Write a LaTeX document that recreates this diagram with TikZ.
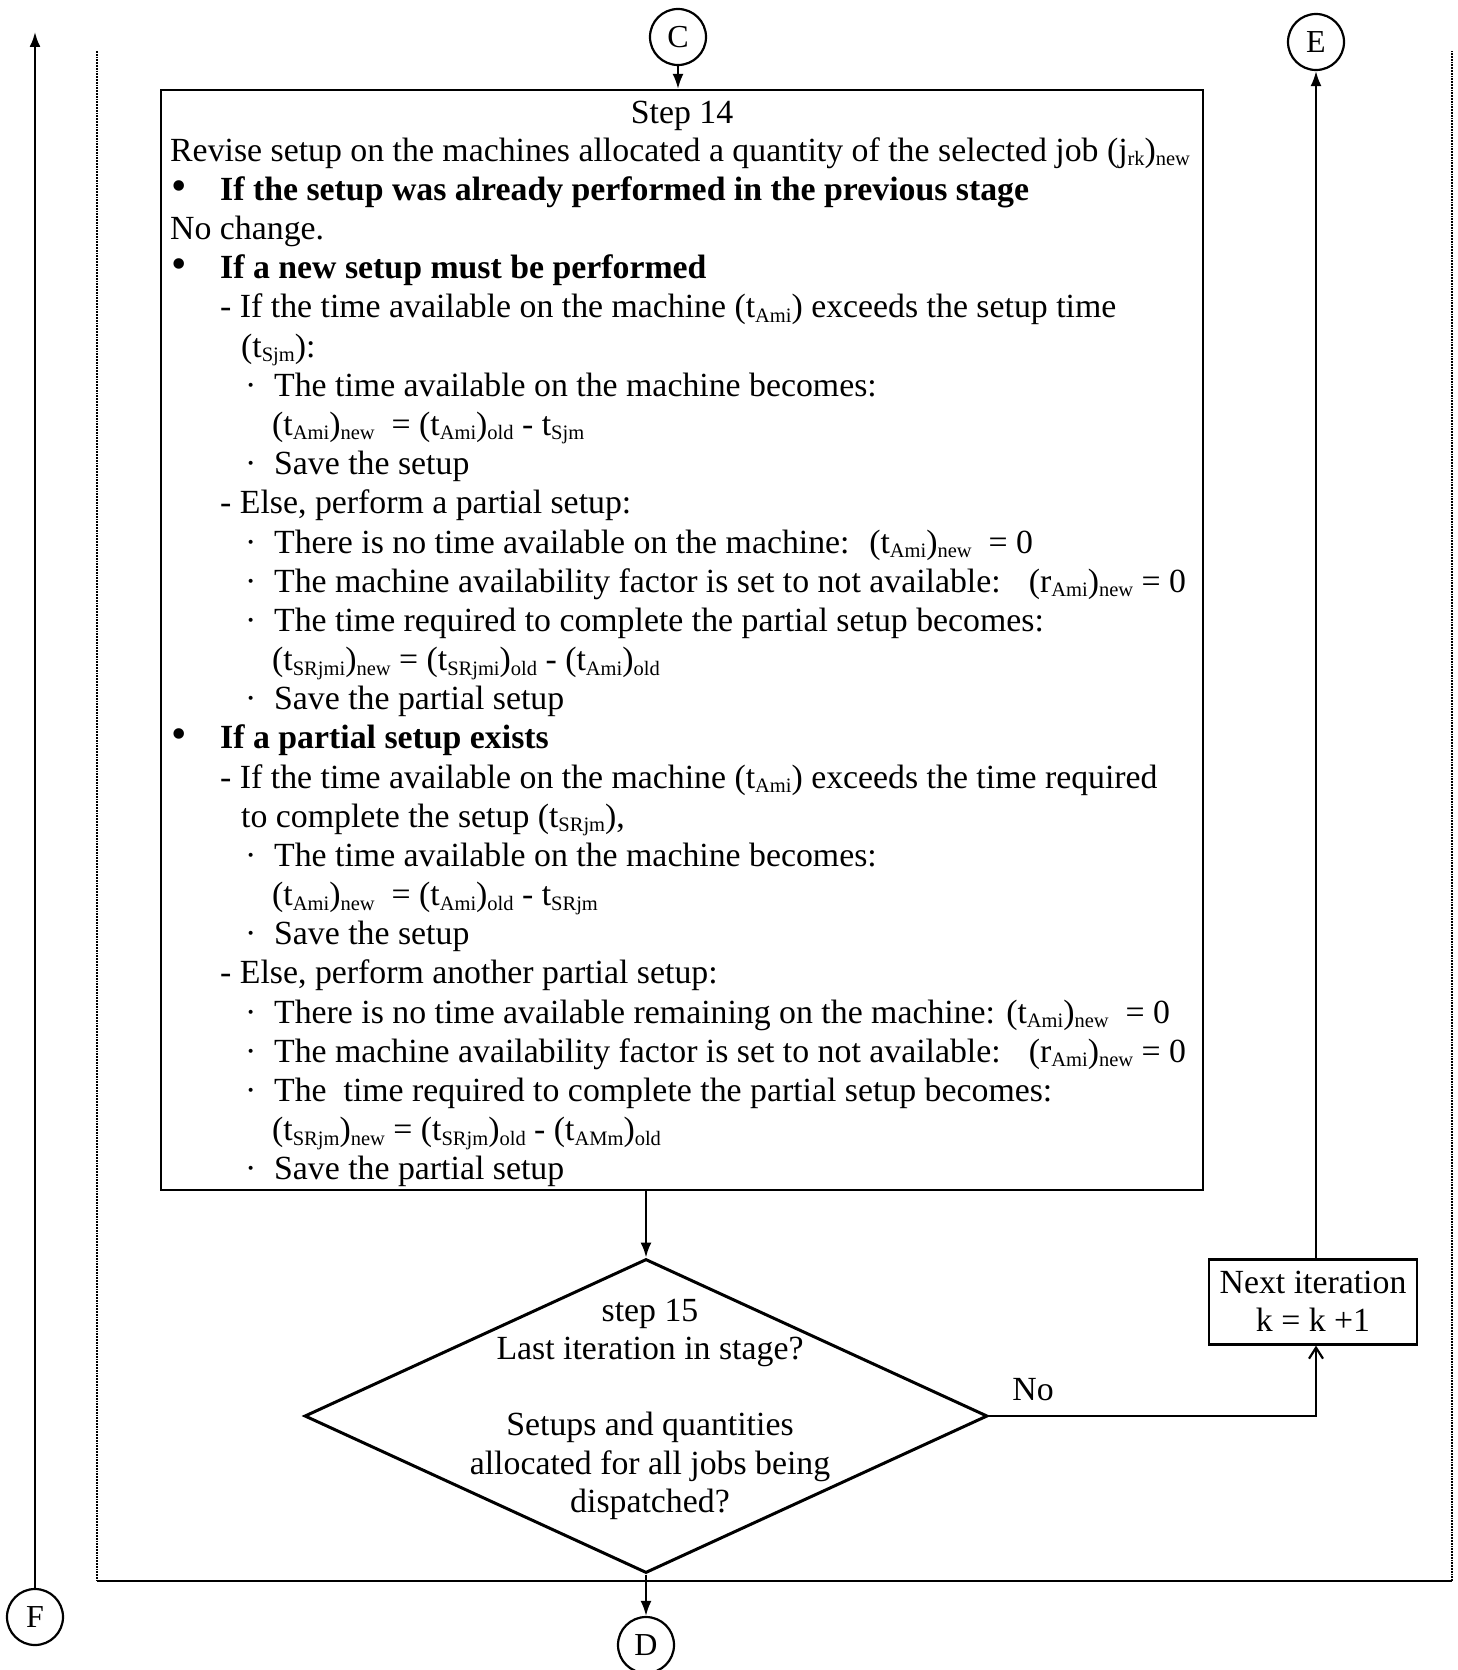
\documentclass[tikz,border=0pt]{standalone}
\usepackage{fontspec}
\setmainfont{Liberation Serif}
\usetikzlibrary{arrows.meta,shapes.geometric}

% lowered small text for indices
\newcommand\sbs[1]{\raisebox{-4.5pt}{\fontsize{20.5}{20.5}\selectfont #1}}
\newcommand\bodyfont{\fontsize{33.8}{39.17}\selectfont}
\newcommand\bul{\makebox[50pt][l]{\hspace{1pt}\scalebox{1.3}{•}}}
\newcommand\dotm{\makebox[29pt][l]{·}}
% one text line of the step-14 box: name, line number, left edge, content
\newcommand\bxline[4]{\node[txt] (#1) at (#3,{161.3+39.17*(#2-1)}) {#4};}

\begin{document}
\begin{tikzpicture}[x=1pt,y=-1pt,
  every node/.style={font=\bodyfont},
  txt/.style={anchor=base west, inner sep=0pt},
  ctxt/.style={anchor=base, inner sep=0pt},
  conn/.style={draw, circle, line width=2.2pt, minimum size=56pt, inner sep=0pt,
               font=\fontsize{32}{32}\selectfont},
  stepbox/.style={draw, line width=2.2pt, inner sep=0pt},
  flow/.style={line width=2.2pt, -{Latex[length=15pt,width=11pt]}},
  openflow/.style={line width=2.2pt, -{Straight Barb[length=11pt,width=14pt,line width=2.2pt]}},
  frame/.style={line width=1.8pt}
]
\useasboundingbox (0,0) rectangle (1457,1670);

% off-page connectors
\node[conn] (C) at (678,37) {C};
\node[conn] (E) at (1316,42) {E};
\node[conn] (F) at (35,1617) {F};
\node[conn] (D) at (646,1645) {D};

% step 14
\node[stepbox, minimum width=1042pt, minimum height=1100pt] (s14) at (682,640) {};
\node[ctxt] (st) at (682,123) {Step 14};
\bxline{l1}{1}{170}{Revise setup on the machines allocated a quantity of the selected job (j\sbs{rk})\sbs{new}}
\bxline{l2}{2}{170}{\bul\textbf{If the setup was already performed in the previous stage}}
\bxline{l3}{3}{170}{No change.}
\bxline{l4}{4}{170}{\bul\textbf{If a new setup must be performed}}
\bxline{l5}{5}{220}{- If the time available on the machine (t\sbs{Ami}) exceeds the setup time}
\bxline{l6}{6}{241}{(t\sbs{Sjm}):}
\bxline{l7}{7}{245}{\dotm The time available on the machine becomes:}
\bxline{l8}{8}{272}{(t\sbs{Ami})\sbs{new} \ = (t\sbs{Ami})\sbs{old} - t\sbs{Sjm}}
\bxline{l9}{9}{245}{\dotm Save the setup}
\bxline{l10}{10}{220}{- Else, perform a partial setup:}
\bxline{l11}{11}{245}{\dotm There is no time available on the machine: \ (t\sbs{Ami})\sbs{new} \ = 0}
\bxline{l12}{12}{245}{\dotm The machine availability factor is set to not available: \ \ (r\sbs{Ami})\sbs{new} = 0}
\bxline{l13}{13}{245}{\dotm The time required to complete the partial setup becomes:}
\bxline{l14}{14}{272}{(t\sbs{SRjmi})\sbs{new} = (t\sbs{SRjmi})\sbs{old} - (t\sbs{Ami})\sbs{old}}
\bxline{l15}{15}{245}{\dotm Save the partial setup}
\bxline{l16}{16}{170}{\bul\textbf{If a partial setup exists}}
\bxline{l17}{17}{220}{- If the time available on the machine (t\sbs{Ami}) exceeds the time required}
\bxline{l18}{18}{241}{to complete the setup (t\sbs{SRjm}),}
\bxline{l19}{19}{245}{\dotm The time available on the machine becomes:}
\bxline{l20}{20}{272}{(t\sbs{Ami})\sbs{new} \ = (t\sbs{Ami})\sbs{old} - t\sbs{SRjm}}
\bxline{l21}{21}{245}{\dotm Save the setup}
\bxline{l22}{22}{220}{- Else, perform another partial setup:}
\bxline{l23}{23}{245}{\dotm There is no time available remaining on the machine: (t\sbs{Ami})\sbs{new} \ = 0}
\bxline{l24}{24}{245}{\dotm The machine availability factor is set to not available: \ \ (r\sbs{Ami})\sbs{new} = 0}
\bxline{l25}{25}{245}{\dotm The \ time required to complete the partial setup becomes:}
\bxline{l26}{26}{272}{(t\sbs{SRjm})\sbs{new} = (t\sbs{SRjm})\sbs{old} - (t\sbs{AMm})\sbs{old}}
\bxline{l27}{27}{245}{\dotm Save the partial setup}

% step 15 decision
\node[draw, diamond, line width=3pt, minimum width=683pt, minimum height=314pt, inner sep=0pt] (dia) at (646,1416) {};
\node[ctxt] (q1) at (650,1321) {step 15};
\node[ctxt] (q2) at (650,1359) {Last iteration in stage?};
\node[ctxt] (q3) at (650,1435) {Setups and quantities};
\node[ctxt] (q4) at (650,1474) {allocated for all jobs being};
\node[ctxt] (q5) at (650,1512) {dispatched?};

% next iteration
\node[stepbox, minimum width=208pt, minimum height=85pt] (nxt) at (1313,1302) {};
\node[ctxt] (n1) at (1313,1293) {Next iteration};
\node[ctxt] (n2) at (1313,1331) {k = k +1};

% connectors
\draw[flow] (C) -- (C.south |- s14.north);
\draw[flow] (s14.south -| dia.north) -- (dia.north);
\draw[flow] (dia.south) -- (D);
\draw[openflow] (dia.east) -- (dia.east -| E) -- (E |- nxt.south);
\node[ctxt] (no) at (1033,1400) {No};
\draw[flow] (E |- nxt.north) -- (E);
\coordinate (Ftip) at (35,32);
\draw[flow] (F) -- (Ftip);

% loop frame
\coordinate (fa) at (97,51);
\coordinate (fb) at (97,1581);
\coordinate (fc) at (1452,1581);
\coordinate (fd) at (1452,51);
\draw[frame, densely dotted] (fa) -- (fb);
\draw[frame] (fb) -- (fc);
\draw[frame, densely dotted] (fc) -- (fd);
\end{tikzpicture}
\end{document}
